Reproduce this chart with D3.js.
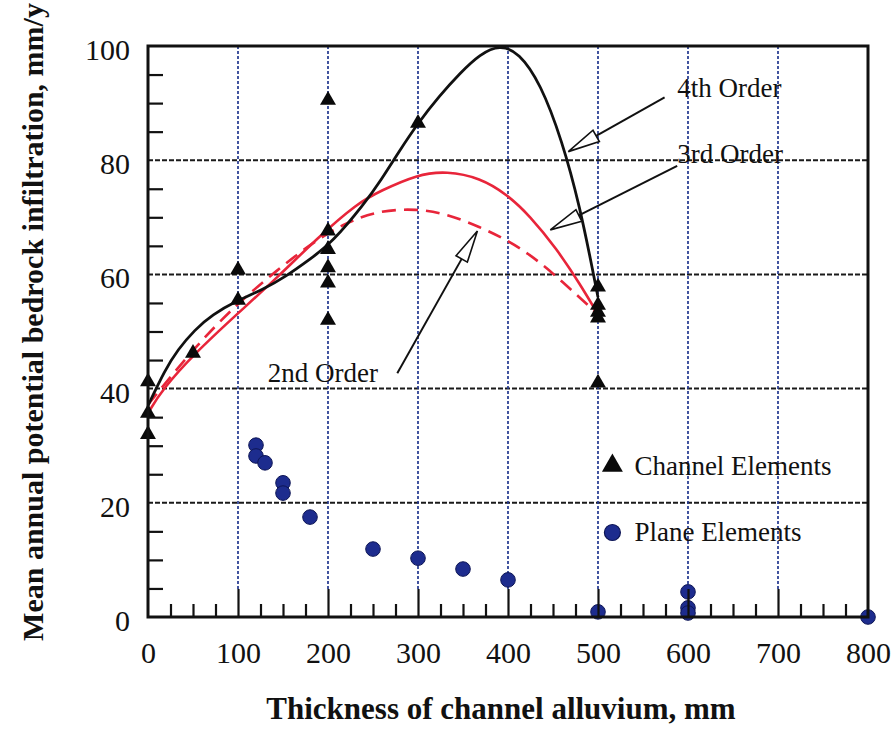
<!DOCTYPE html>
<html><head><meta charset="utf-8">
<script src="https://cdn.jsdelivr.net/npm/d3@7"></script>
<style>body{margin:0;background:#fff}svg{display:block}</style>
</head><body>
<svg id="c" width="893" height="729"></svg>
<script>
// ---- data ----
const channelX = [0,0,0,50,100,100,200,200,200,200,200,200,300,500,500,500,500,500];
const channelY = [41.2,35.7,32,46.2,60.8,55.5,90.5,67.6,64.4,61.2,58.5,52,86.5,57.8,54.6,53.4,52.4,41];
const planeX = [120,120,130,150,150,180,250,300,350,400,500,600,600,600,800];
const planeY = [30.1,28.2,27,23.5,21.7,17.5,11.9,10.3,8.4,6.5,0.9,4.4,1.6,0.7,0];
const order4X = [0,19,33,52,71,100,127,152,182,204,241,258,280,300,324,347,369,391,412,436,460,480,495,500];
const order4Y = [37,43.3,46.8,50.3,52.9,55.5,57.3,59.5,62.9,65.5,72.5,76.3,81.8,86.5,91.3,95.3,98.6,100.2,98.9,93.5,83.5,71.8,60,56];
const order3X = [0,15.6,52,100,144,189,233,258,299,332,369,399,424,454,480,500];
const order3Y = [35.7,39.8,46.2,53.2,59.5,66.5,72.5,74.6,77.5,78.1,76.9,74,70.3,64.5,58.3,53];
const order2X = [0,52,100,144,182,219,256,299,332,369,399,424,450,480,500];
const order2Y = [37.2,47.3,55,60.8,65.5,69,71.2,71.5,70.6,68.3,66,63.5,60.2,55.9,53];
const xTicks = [0,100,200,300,400,500,600,700,800];
const yTicks = [0,20,40,60,80,100];
const xTitle = "Thickness of channel alluvium, mm";
const yTitle = "Mean annual potential bedrock infiltration, mm/y";
const annLabels = ["4th Order","3rd Order","2nd Order"];
const annTextX = [588,588,133];
const annTextY = [91,79.5,41.2];
const annFromX = [574,588,277];
const annFromY = [91,79,42.7];
const annToX = [467,447,366];
const annToY = [81.5,67.8,67.6];
const legendLabels = ["Channel Elements","Plane Elements"];
const legendX = [516,516];
const legendY = [26.5,14.8];

// ---- chart ----
const svg = d3.select("#c");
const FONT = "'Liberation Serif','Times New Roman',serif";
const x = d3.scaleLinear().domain([0,800]).range([148,868]);
const y = d3.scaleLinear().domain([0,100]).range([617,46]);
const RED = "#e8253a";

// horizontal grid
svg.append("g").selectAll("line").data([20,40,60,80]).join("line")
  .attr("x1",x(0)).attr("x2",x(800)).attr("y1",d=>y(d)).attr("y2",d=>y(d))
  .attr("stroke","#1a1a1a").attr("stroke-width",2).attr("stroke-dasharray","5,2");
// vertical grid
svg.append("g").selectAll("line").data([100,200,300,400,500,600,700]).join("line")
  .attr("x1",d=>x(d)).attr("x2",d=>x(d)).attr("y1",y(100)).attr("y2",y(0)-28)
  .attr("stroke","#23378f").attr("stroke-width",1.7).attr("stroke-dasharray","3,2");

// curves
const line = d3.line().x(d=>x(d[0])).y(d=>y(d[1])).curve(d3.curveBasis);
svg.append("path").datum(order2X.map((v,i)=>[v,order2Y[i]])).attr("d",line)
  .attr("fill","none").attr("stroke",RED).attr("stroke-width",2.6).attr("stroke-dasharray","14,8");
svg.append("path").datum(order3X.map((v,i)=>[v,order3Y[i]])).attr("d",line)
  .attr("fill","none").attr("stroke",RED).attr("stroke-width",2.6);
svg.append("path").datum(order4X.map((v,i)=>[v,order4Y[i]])).attr("d",line)
  .attr("fill","none").attr("stroke","#111").attr("stroke-width",2.8);

// points
const tri = d3.symbol(d3.symbolTriangle).size(110);
svg.append("g").selectAll("path").data(channelX.map((v,i)=>[v,channelY[i]])).join("path")
  .attr("d",tri).attr("transform",d=>`translate(${x(d[0])},${y(d[1])})`).attr("fill","#0a0a0a");
svg.append("g").selectAll("circle").data(planeX.map((v,i)=>[v,planeY[i]])).join("circle")
  .attr("cx",d=>x(d[0])).attr("cy",d=>y(d[1])).attr("r",7.3)
  .attr("fill","#1d2c8e").attr("stroke","#0e1656").attr("stroke-width",1);

// frame
svg.append("rect").attr("x",x(0)).attr("y",y(100)).attr("width",x(800)-x(0)).attr("height",y(0)-y(100))
  .attr("fill","none").attr("stroke","#111").attr("stroke-width",3);

// minor / major ticks via axes
const minorX = d3.range(25,800,25).filter(d=>d%100!==0);
const gxm = svg.append("g").attr("transform",`translate(0,${y(0)})`)
  .call(d3.axisBottom(x).tickValues(minorX).tickSize(-13).tickFormat(""));
const gxM = svg.append("g").attr("transform",`translate(0,${y(0)})`)
  .call(d3.axisBottom(x).tickValues([100,200,300,400,500,600,700]).tickSize(-28).tickFormat(""));
const minorY = d3.range(5,100,5).filter(d=>d%20!==0);
const gym = svg.append("g").attr("transform",`translate(${x(0)},0)`)
  .call(d3.axisLeft(y).tickValues(minorY).tickSize(-15).tickFormat(""));
[gxm,gxM,gym].forEach(g=>{g.select(".domain").remove();g.selectAll("line").attr("stroke","#111").attr("stroke-width",2.2);});

// labels
const gxl = svg.append("g").attr("transform",`translate(0,${y(0)})`)
  .call(d3.axisBottom(x).tickValues(xTicks).tickSize(0).tickPadding(25).tickFormat(d3.format("d")));
const gyl = svg.append("g").attr("transform",`translate(${x(0)},0)`)
  .call(d3.axisLeft(y).tickValues(yTicks).tickSize(0).tickPadding(18).tickFormat(d3.format("d")));
[gxl,gyl].forEach(g=>{g.select(".domain").remove();
  g.selectAll("text").attr("font-family",FONT).attr("font-size",30).attr("fill","#111");});
gyl.selectAll("text").attr("dy","0.45em");

svg.append("text").attr("x",501).attr("y",719).attr("text-anchor","middle")
  .attr("font-family",FONT).attr("font-weight","bold").attr("font-size",31).attr("fill","#111").text(xTitle);
svg.append("text").attr("transform","translate(43,322) rotate(-90)").attr("text-anchor","middle")
  .attr("font-family",FONT).attr("font-weight","bold").attr("font-size",30).attr("fill","#111").text(yTitle);

// annotations with hollow arrowheads
annLabels.forEach((t,i)=>{
  svg.append("text").attr("x",x(annTextX[i])).attr("y",y(annTextY[i]))
    .attr("font-family",FONT).attr("font-size",27).attr("fill","#111").text(t);
  const x0=x(annFromX[i]), y0=y(annFromY[i]), x1=x(annToX[i]), y1=y(annToY[i]);
  const dx=x1-x0, dy=y1-y0, L=Math.hypot(dx,dy), ux=dx/L, uy=dy/L, px=-uy, py=ux;
  const hl=32, hw=6.5;
  const bx=x1-ux*hl, by=y1-uy*hl;
  svg.append("line").attr("x1",x0).attr("y1",y0).attr("x2",bx).attr("y2",by)
    .attr("stroke","#111").attr("stroke-width",2);
  svg.append("path").attr("d",`M${x1},${y1}L${bx+px*hw},${by+py*hw}L${bx-px*hw},${by-py*hw}Z`)
    .attr("fill","#fff").attr("stroke","#111").attr("stroke-width",1.6);
});

// legend
svg.append("path").attr("d",d3.symbol(d3.symbolTriangle).size(190))
  .attr("transform",`translate(${x(legendX[0])},${y(legendY[0])})`).attr("fill","#0a0a0a");
svg.append("circle").attr("cx",x(legendX[1])).attr("cy",y(legendY[1])).attr("r",8)
  .attr("fill","#1d2c8e").attr("stroke","#0e1656").attr("stroke-width",1.2);
legendLabels.forEach((t,i)=>{
  svg.append("text").attr("x",x(legendX[i])+22).attr("y",y(legendY[i])+9)
    .attr("font-family",FONT).attr("font-size",27).attr("fill","#111").text(t);
});
</script>
</body></html>
